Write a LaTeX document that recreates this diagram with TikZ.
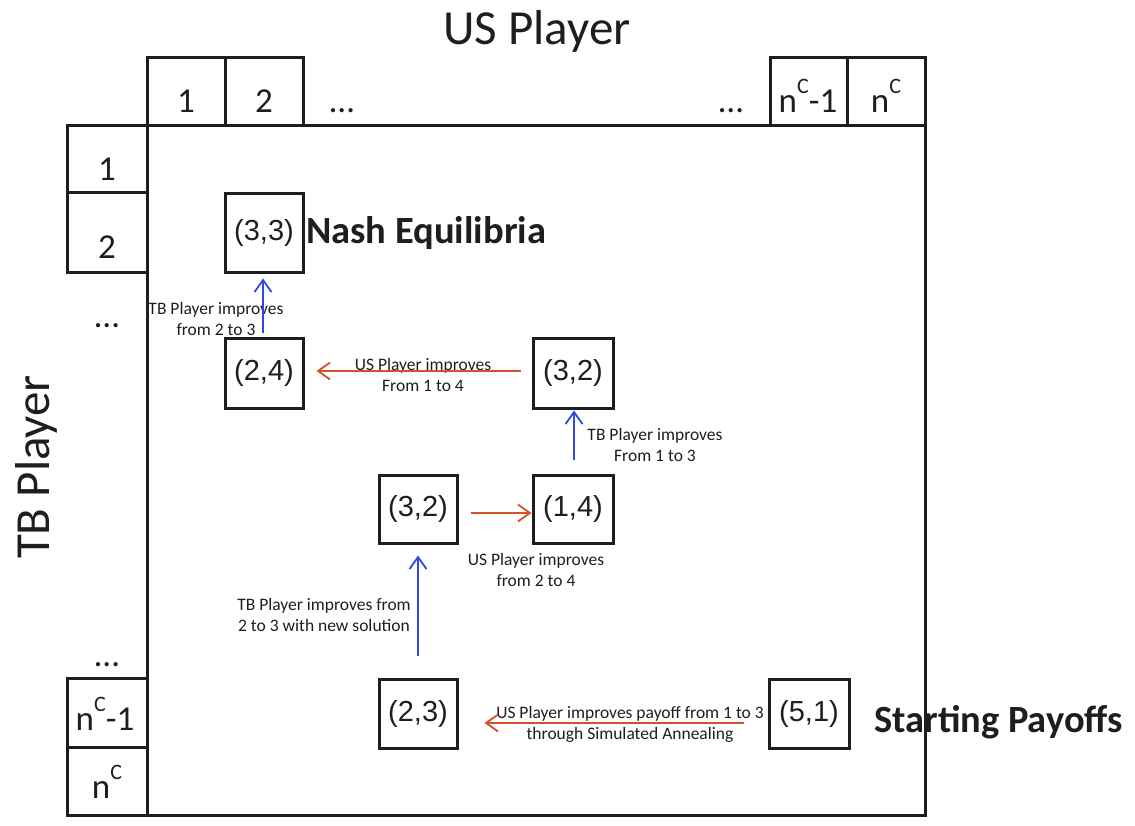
\documentclass[tikz,border=0pt]{standalone}
\usepackage{fontspec}
\setmainfont{Carlito}
\newfontfamily\arialf{Liberation Sans}
\usetikzlibrary{arrows.meta}
\definecolor{arrred}{RGB}{214,80,40}
\definecolor{arrblue}{RGB}{50,70,225}
\definecolor{txt}{RGB}{30,30,30}
\newcommand\supC{\raisebox{19pt}{\fontsize{22}{22}\selectfont C}}
\newcommand\twolines[2]{\begin{tabular}[t]{@{}c@{}}#1\\#2\end{tabular}}
\begin{document}
\begin{tikzpicture}[x=1pt,y=-1pt,
  grid/.style={line width=3pt, draw=txt},
  payoff/.style={draw=txt, line width=3pt, inner sep=0pt, text=txt,
    font=\arialf\fontsize{29}{29}\selectfont},
  cell/.style={font=\fontsize{35}{35}\selectfont, text=txt, anchor=base, inner sep=0pt},
  title/.style={font=\fontsize{49}{49}\selectfont, text=txt, anchor=base, inner sep=0pt},
  lbl/.style={font=\fontsize{17.5}{21}\selectfont, text=txt, anchor=base, inner sep=0pt},
  big/.style={font=\bfseries\fontsize{38.5}{38.5}\selectfont, text=txt, anchor=base west, inner sep=0pt},
  redarrow/.style={draw=arrred, line width=1.8pt, -{Straight Barb[length=12pt,width=17pt]}},
  bluearrow/.style={draw=arrblue, line width=1.8pt, -{Straight Barb[length=12pt,width=17pt]}}]
\useasboundingbox (0,0) rectangle (1135,825);
% grid
\draw[grid] (147,57) rectangle (225,125);
\draw[grid] (225,57) rectangle (303,125);
\draw[grid] (770,57) rectangle (847,125);
\draw[grid] (847,57) rectangle (925,125);
\draw[grid] (67,125) rectangle (147,192);
\draw[grid] (67,192) rectangle (147,272);
\draw[grid] (67,678) rectangle (147,747);
\draw[grid] (67,747) rectangle (147,815);
\draw[grid] (147,125) rectangle (925,815);
% titles
\node[title] (usp) at (537,44) {US Player};
\node[title, rotate=90] (tbp) at (49,467) {TB Player};
% header cells
\node[cell] (h1) at (186,112) {1};
\node[cell] (h2) at (264,112) {2};
\node[cell] (hd1) at (342,112) {…};
\node[cell] (hd2) at (731,112) {…};
\node[cell] (hn1) at (808,112) {n\supC-1};
\node[cell] (hn) at (886,112) {n\supC};
% left cells
\node[cell] (v1) at (107,180) {1};
\node[cell] (v2) at (107,258) {2};
\node[cell] (vd1) at (107,327) {…};
\node[cell] (vd2) at (107,666) {…};
\node[cell] (vn1) at (105,730) {n\supC-1};
\node[cell] (vn) at (107,798) {n\supC};
% payoff boxes
\node[payoff, minimum width=78pt, minimum height=79pt] (b33) at (264,232.5) {(3,3)};
\node[payoff, minimum width=78pt, minimum height=70pt] (b24) at (264,373) {(2,4)};
\node[payoff, minimum width=80pt, minimum height=70pt] (b32a) at (573,373) {(3,2)};
\node[payoff, minimum width=78pt, minimum height=68pt] (b32b) at (418,509) {(3,2)};
\node[payoff, minimum width=80pt, minimum height=68pt] (b14) at (573,509) {(1,4)};
\node[payoff, minimum width=78pt, minimum height=69pt] (b23) at (418,713.5) {(2,3)};
\node[payoff, minimum width=80pt, minimum height=69pt] (b51) at (809,713.5) {(5,1)};
% big labels
\node[big] (nash) at (306,243) {Nash Equilibria};
\node[big] (start) at (874,732) {Starting Payoffs};
% arrow labels
\node[lbl] (l1) at (216,314) {\twolines{TB Player improves}{from 2 to 3}};
\node[lbl] (l2) at (423,370) {\twolines{US Player improves}{From 1 to 4}};
\node[lbl] (l3) at (655,440) {\twolines{TB Player improves}{From 1 to 3}};
\node[lbl] (l4) at (536,565) {\twolines{US Player improves}{from 2 to 4}};
\node[lbl] (l5) at (324,610) {\twolines{TB Player improves from}{2 to 3 with new solution}};
\node[lbl] (l6) at (630,718) {\twolines{US Player improves payoff from 1 to 3}{through Simulated Annealing}};
% arrows
\draw[bluearrow, shorten <=4pt, shorten >=5pt] ([xshift=-1pt]b24.north) -- ([xshift=-1pt]b33.south);
\draw[redarrow, shorten <=11pt, shorten >=12pt] ([yshift=2pt]b32a.west) -- ([yshift=2pt]b24.east);
\draw[bluearrow, shorten <=14pt, shorten >=1pt] ([xshift=1pt]b14.north) -- ([xshift=1pt]b32a.south);
\draw[redarrow, shorten <=12pt, shorten >=0pt] ([yshift=-4pt]b32b.east) -- ([yshift=-4pt]b14.west);
\draw[bluearrow, shorten <=22pt, shorten >=11pt] (b23.north) -- (b32b.south);
\draw[redarrow, shorten <=24pt, shorten >=26pt] ([yshift=-9.5pt]b51.west) -- ([yshift=-9.5pt]b23.east);
\end{tikzpicture}
\end{document}
